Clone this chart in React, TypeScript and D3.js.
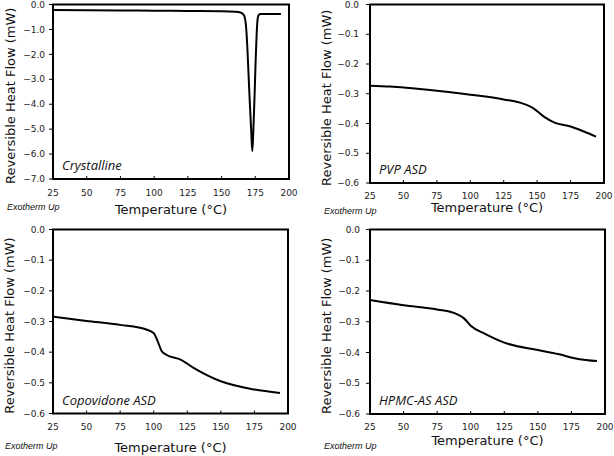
import React from "react";
import * as d3 from "d3";

const xTicks = [25, 50, 75, 100, 125, 150, 175, 200];
const yTicksCrystal = [0, -1, -2, -3, -4, -5, -6, -7];
const yTicksASD = [0, -0.1, -0.2, -0.3, -0.4, -0.5, -0.6];

const crystallineT = [25, 50, 75, 100, 125, 150, 160, 164, 166.5, 168, 169, 170, 171, 172, 172.8, 173.6, 174.5, 175.3, 176, 176.7, 177.5, 179, 185, 194];
const crystallineV = [-0.22, -0.23, -0.24, -0.25, -0.26, -0.27, -0.29, -0.32, -0.42, -0.8, -1.6, -2.8, -4.0, -5.1, -5.88, -5.0, -3.6, -2.2, -1.2, -0.6, -0.42, -0.38, -0.38, -0.38];

const pvpT = [25, 40, 52, 75, 100, 125, 140, 147, 155, 163, 175, 185, 194];
const pvpV = [-0.273, -0.276, -0.28, -0.29, -0.303, -0.319, -0.334, -0.348, -0.377, -0.397, -0.41, -0.427, -0.444];

const copoT = [25, 50, 75, 95, 100, 103, 106, 110, 120, 130, 150, 175, 194];
const copoV = [-0.284, -0.298, -0.311, -0.327, -0.338, -0.365, -0.397, -0.41, -0.424, -0.452, -0.495, -0.522, -0.533];

const hpmcT = [25, 50, 75, 90, 95, 100, 110, 125, 150, 165, 180, 194];
const hpmcV = [-0.229, -0.246, -0.26, -0.276, -0.289, -0.313, -0.338, -0.368, -0.392, -0.405, -0.421, -0.428];

type PanelProps = {
  left: number; right: number; top: number; bottom: number;
  yTicks: number[]; yMin: number;
  T: number[]; V: number[];
  label: string;
  yTitleX: number; yLabelGap: number;
  xLabelY: number; xTitleY: number;
  exoX: number; exoY: number;
};

function Panel(p: PanelProps) {
  const x = d3.scaleLinear().domain([25, 200]).range([p.left, p.right]);
  const y = d3.scaleLinear().domain([p.yMin, 0]).range([p.bottom, p.top]);
  const pts: [number, number][] = p.T.map((t, i) => [t, p.V[i]]);
  const line = d3.line<[number, number]>().x(d => x(d[0])).y(d => y(d[1])).curve(d3.curveMonotoneX);
  const fmt = d3.format(".1f");
  const tickFont = "DejaVu Sans, Verdana, sans-serif";
  return (
    <g>
      <path d={line(pts) || ""} fill="none" stroke="#000" strokeWidth={2} />
      <rect x={p.left} y={p.top} width={p.right - p.left} height={p.bottom - p.top} fill="none" stroke="#000" strokeWidth={2} />
      {p.yTicks.map(v => (
        <g key={"y" + v}>
          <line x1={p.left - 4} x2={p.left} y1={y(v)} y2={y(v)} stroke="#000" strokeWidth={1} />
          <text x={p.left - p.yLabelGap} y={y(v)} dy="0.35em" textAnchor="end" fontSize={9} fontFamily={tickFont} fill="#222">{fmt(v)}</text>
        </g>
      ))}
      {xTicks.map(t => (
        <g key={"x" + t}>
          <line x1={x(t)} x2={x(t)} y1={p.bottom} y2={p.bottom - 3} stroke="#000" strokeWidth={1} />
          <text x={x(t)} y={p.xLabelY} textAnchor="middle" fontSize={9} fontFamily={tickFont} fill="#222">{t}</text>
        </g>
      ))}
      <text x={(p.left + p.right) / 2} y={p.xTitleY} textAnchor="middle" fontSize={13} fontFamily={tickFont} fill="#111">Temperature (°C)</text>
      <text transform={`translate(${p.yTitleX},${(p.top + p.bottom) / 2 + 4}) rotate(-90)`} textAnchor="middle" dy="0.35em" fontSize={13} fontFamily={tickFont} fill="#111">Reversible Heat Flow (mW)</text>
      <text x={p.left + 9} y={p.bottom - 9} fontSize={13} fontStyle="italic" fontFamily="Open Sans, sans-serif" fill="#111">{p.label}</text>
      <text x={p.exoX} y={p.exoY} fontSize={9} fontStyle="italic" fontFamily="Liberation Sans, Arial, sans-serif" fill="#111">Exotherm Up</text>
    </g>
  );
}

export default function App() {
  return (
    <svg width={614} height={456} style={{ position: "absolute", left: 0, top: 0, background: "#fff" }}>
      <rect width={614} height={456} fill="#fff" />
      <Panel left={53} right={289} top={4.5} bottom={179} yTicks={yTicksCrystal} yMin={-7}
        T={crystallineT} V={crystallineV} label="Crystalline"
        yTitleX={10} yLabelGap={8} xLabelY={196} xTitleY={214} exoX={7} exoY={210} />
      <Panel left={370} right={604} top={4.5} bottom={183} yTicks={yTicksASD} yMin={-0.6}
        T={pvpT} V={pvpV} label="PVP ASD"
        yTitleX={326} yLabelGap={11} xLabelY={199} xTitleY={212} exoX={324} exoY={214} />
      <Panel left={53} right={288} top={229.5} bottom={413.5} yTicks={yTicksASD} yMin={-0.6}
        T={copoT} V={copoV} label="Copovidone ASD"
        yTitleX={9} yLabelGap={8} xLabelY={430} xTitleY={452} exoX={5} exoY={449} />
      <Panel left={370} right={605} top={229.5} bottom={414} yTicks={yTicksASD} yMin={-0.6}
        T={hpmcT} V={hpmcV} label="HPMC-AS ASD"
        yTitleX={326} yLabelGap={10} xLabelY={430} xTitleY={445} exoX={324} exoY={449} />
    </svg>
  );
}
